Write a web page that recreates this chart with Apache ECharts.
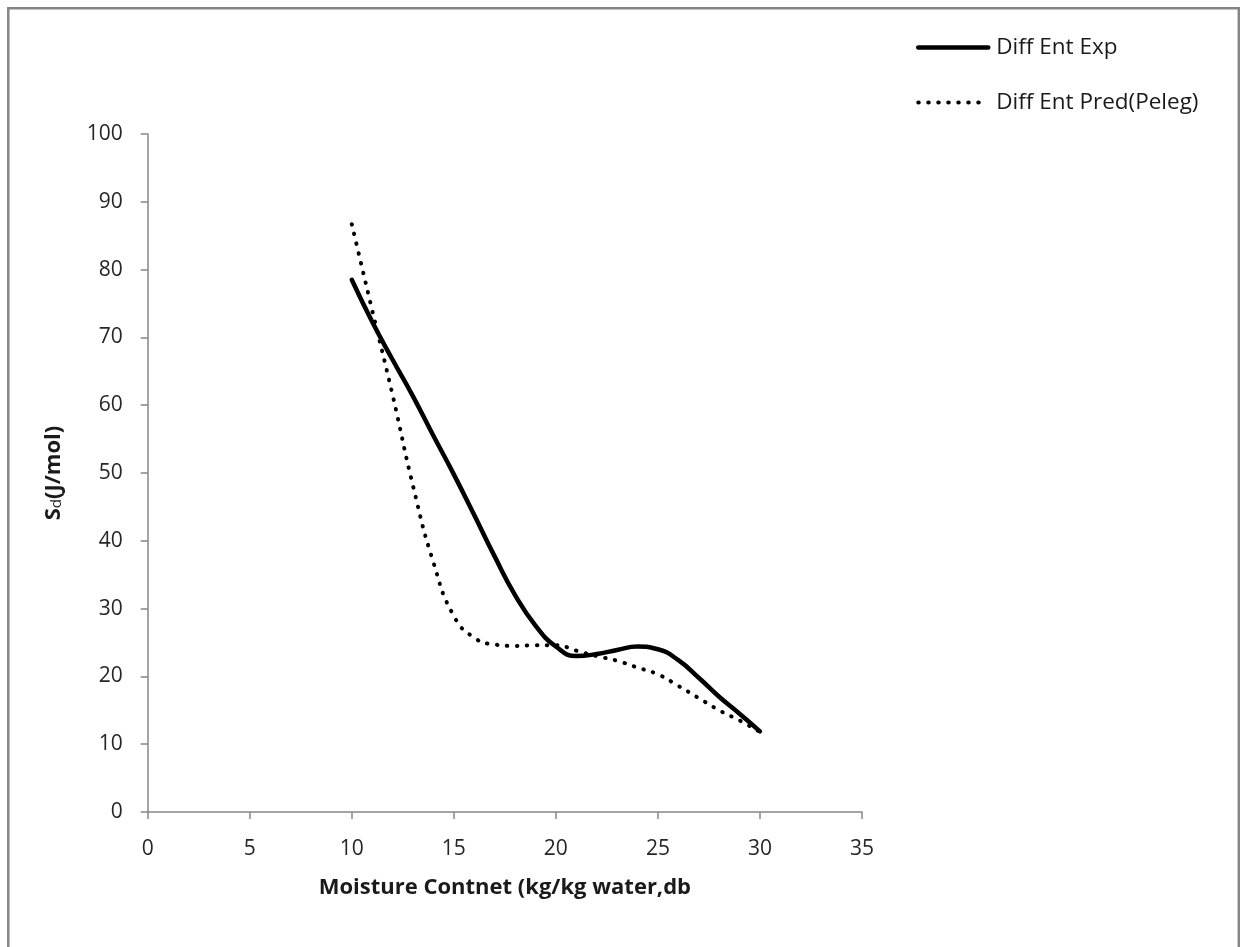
<!DOCTYPE html>
<html>
<head>
<meta charset="utf-8">
<script src="https://cdn.jsdelivr.net/npm/echarts@6/dist/echarts.min.js"></script>
<style>
  html, body { margin: 0; padding: 0; background: #ffffff; }
  #chart { width: 1240px; height: 947px; }
</style>
</head>
<body>
<div id="chart"></div>
<script>
// ---- data ----
const moisture = [10, 11, 12, 13, 14, 15, 16, 17, 18, 19, 20, 21, 22, 23, 24, 25, 26, 27, 28, 29, 30];
const diffEntExp = [78.5, 72.3, 66.7, 61.3, 55.5, 49.8, 43.8, 37.7, 32.0, 27.5, 24.4, 23.0, 23.3, 23.9, 24.4, 24.0, 22.4, 19.8, 17.0, 14.5, 11.9];
const diffEntPred = [86.7, 74.0, 61.5, 48.1, 36.8, 28.9, 25.7, 24.7, 24.5, 24.6, 24.6, 23.8, 23.0, 22.3, 21.3, 20.3, 18.6, 16.8, 15.0, 13.5, 11.8];
const seriesNames = ['Diff Ent Exp', 'Diff Ent Pred(Peleg)'];
const xTitle = 'Moisture Contnet (kg/kg water,db';

const FONT = '"Open Sans", "Noto Sans", sans-serif';
const AXIS_GRAY = '#868686';

function pairs(xs, ys) { return xs.map((x, i) => [x, ys[i]]); }

const chart = echarts.init(document.getElementById('chart'), null, { renderer: 'canvas' });
chart.setOption({
  backgroundColor: '#ffffff',
  animation: false,
  graphic: [{
    type: 'rect',
    shape: { x: 8.3, y: 8.3, width: 1230.5, height: 960 },
    style: { fill: 'none', stroke: AXIS_GRAY, lineWidth: 2.5 },
    silent: true
  }],
  grid: { left: 147.7, right: 378, top: 134, bottom: 135, containLabel: false, outerBoundsMode: 'none' },
  legend: {
    orient: 'vertical',
    left: 916,
    top: 36,
    padding: 0,
    itemWidth: 70,
    itemHeight: 24,
    itemGap: 32,
    itemStyle: { opacity: 0 },
    textStyle: { fontFamily: FONT, fontSize: 22.5, color: '#1a1a1a', padding: [0, 0, 0, 3] },
    data: [
      { name: seriesNames[0], lineStyle: { width: 4.5, type: 'solid', color: '#000000' } },
      { name: seriesNames[1], lineStyle: { width: 4, type: [0.5, 9.5], cap: 'round', color: '#000000' } }
    ]
  },
  xAxis: {
    type: 'value',
    min: 0, max: 35, interval: 5,
    name: xTitle,
    nameLocation: 'middle',
    nameGap: 65,
    nameTextStyle: { fontFamily: FONT, fontSize: 22, fontWeight: 'bold', color: '#1a1a1a' },
    axisLine: { show: true, lineStyle: { color: AXIS_GRAY, width: 1.5 } },
    axisTick: { show: true, inside: false, length: 7, lineStyle: { color: AXIS_GRAY, width: 1.5 } },
    axisLabel: { margin: 27, fontFamily: FONT, fontSize: 21, color: '#262626' },
    splitLine: { show: false }
  },
  yAxis: {
    type: 'value',
    min: 0, max: 100, interval: 10,
    name: '{s|S}{sub|d}{s|(J/mol)}',
    nameLocation: 'middle',
    nameGap: 83,
    nameTextStyle: {
      fontFamily: FONT, color: '#1a1a1a',
      rich: {
        s: { fontFamily: FONT, fontSize: 22, fontWeight: 'bold', color: '#1a1a1a', verticalAlign: 'bottom', lineHeight: 28 },
        sub: { fontFamily: FONT, fontSize: 15, fontWeight: 'normal', color: '#1a1a1a', verticalAlign: 'bottom', lineHeight: 24 }
      }
    },
    axisLine: { show: true, lineStyle: { color: AXIS_GRAY, width: 1.5 } },
    axisTick: { show: true, inside: false, length: 7, lineStyle: { color: AXIS_GRAY, width: 1.5 } },
    axisLabel: { margin: 25, fontFamily: FONT, fontSize: 21, color: '#262626' },
    splitLine: { show: false }
  },
  series: [
    {
      name: seriesNames[0],
      type: 'line',
      data: pairs(moisture, diffEntExp),
      smooth: 0.5,
      symbol: 'none',
      lineStyle: { color: '#000000', width: 4.5, type: 'solid', cap: 'round' },
      itemStyle: { color: '#000000' }
    },
    {
      name: seriesNames[1],
      type: 'line',
      data: pairs(moisture, diffEntPred),
      smooth: 0.5,
      symbol: 'none',
      lineStyle: { color: '#000000', width: 4, type: [0.5, 9.5], cap: 'round' },
      itemStyle: { color: '#000000' }
    }
  ]
});
</script>
</body>
</html>
